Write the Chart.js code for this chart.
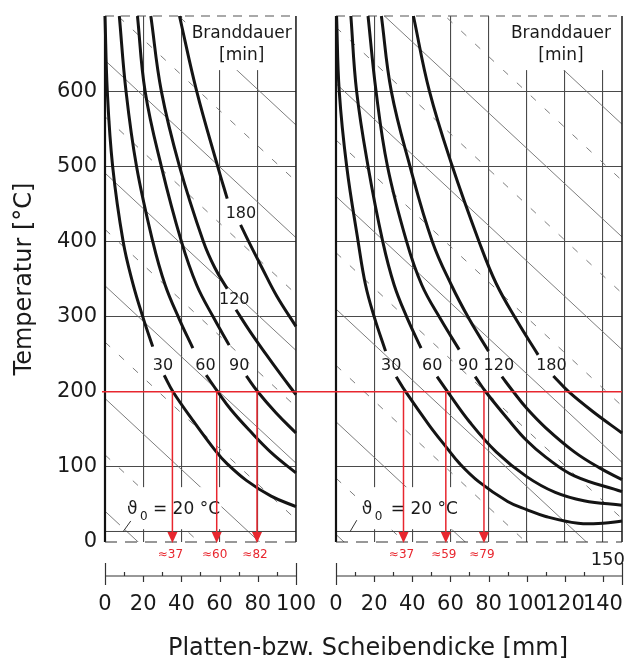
<!DOCTYPE html>
<html>
<head>
<meta charset="utf-8">
<script src="https://cdn.jsdelivr.net/npm/chart.js@4.4.1/dist/chart.umd.min.js"></script>
<style>
  body { margin: 0; background: #fff; width: 627px; height: 659px; position: relative; overflow: hidden; }
  #left { position: absolute; left: 0; top: 0; }
  #right { position: absolute; left: 316px; top: 0; }
  #xtitle { position: absolute; left: 0; width: 736px; top: 633px; text-align: center;
            font: 24px "DejaVu Sans"; color: #1a1a1a; }
</style>
</head>
<body>
<canvas id="left" width="316" height="659"></canvas>
<canvas id="right" width="311" height="659"></canvas>
<div id="xtitle">Platten-bzw. Scheibendicke [mm]</div>
<script>
// Branddauer [min]
const durations = ['30', '60', '90', '120', '180']
const yTicks = [0, 100, 200, 300, 400, 500, 600]
const xTicksPlatte = [0, 20, 40, 60, 80, 100]
const xTicksScheibe = [0, 20, 40, 60, 80, 100, 120, 140]

// Platte: [Dicke mm, Temperatur °C], null = Lücke für die Beschriftung
const platte30 = [[0,700],[1.2,600],[4,500],[9.5,400],[14.5,345],[20,298],[25,260],null,[31,222],[35.6,200],[46,162],[58,121],[64,104],[74,82],[87,61],[100,47]]
const platte60 = [[7.5,700],[11,600],[16.5,500],[25,400],[31.5,342],[39,296],[46,258],null,[53,222],[59,200],[66,176],[75.5,149],[87.5,118],[100,92]]
const platte90 = [[17,700],[21,600],[29.5,500],[40,400],[48,342],[57,298],[65,262],null,[74,221],[80,200],[89.5,172],[100,145]]
const platte120 = [[24,700],[29.5,600],[39,500],[51.5,400],[57.5,365],[64,337],null,[68.6,309],[76,280],[84,251],[92,223],[100,196]]
const platte180 = [[39,700],[48,600],[59,500],[64,457],null,[71,422],[75,401],[82,366],[90,327],[100,287]]

// Scheibe
const scheibe30 = [[0.3,700],[1.7,600],[5.6,500],[11.6,400],[15.5,342],[20,300],[26,254],null,[31.6,220],[36.5,200],[49,155],[57.6,127],[65,104],[75,80],[90,54],[100,43],[110,34],[127,25],[140,25],[150,28]]
const scheibe60 = [[7.8,700],[10.8,600],[16.8,500],[24.5,400],[30.5,342],[37,300],[44.6,258],null,[53,220],[58.5,200],[70,160],[84,120],[100,87],[115,66],[130,55],[150,49]]
const scheibe90 = [[16.8,700],[21,600],[27,500],[37,400],[45,342],[55,296],[64.6,256],null,[73,220],[78.5,200],[90,164],[100,135],[110,113],[125,88],[150,67]]
const scheibe120 = [[23.8,700],[29,600],[38.8,500],[50.5,400],[60.5,342],[70,296],[80,254],null,[87,220],[93,200],[100,178],[110,152],[125,120],[138,99],[150,83]]
const scheibe180 = [[40.6,700],[49,600],[61,500],[75,400],[84,344],[95,294],[106,249],null,[114,221],[122,200],[135,173],[150,145]]

// Ablesung bei 200 °C
const readT = 200
const platteRead = [35.3, 58.5, 79.6]
const platteReadText = ['≈37', '≈60', '≈82']
const scheibeRead = [35.4, 57.6, 77.6]
const scheibeReadText = ['≈37', '≈59', '≈79']

// ϑ0-Linie und Hilfslinien (Achsabschnitt bei 0 mm in °C)
const theta0Line = 14
const diagSlope = 2.36
const platteSolid = [791, 641, 491, 341, 191, 41]
const platteDashed = [866, 716, 566, 416, 266, 116]
const scheibeSolid = [910, 760, 610, 460, 310, 160, 10]
const scheibeDashed = [985, 835, 685, 535, 385, 235, 85]

const FONT = '"DejaVu Sans"'
const INK = '#1a1a1a'
const RED = '#e8262e'

function toPoints(pairs) {
  return pairs.map((p, i) => p ? { x: p[0], y: p[1] } : { x: pairs[i - 1][0], y: null })
}

const decor = {
  id: 'decor',
  beforeDatasetsDraw(chart, args, o) {
    const { ctx, chartArea: a, scales: { x, y } } = chart
    const X = v => x.getPixelForValue(v)
    const Y = v => y.getPixelForValue(v)
    ctx.save()
    ctx.beginPath()
    ctx.rect(a.left, a.top, a.right - a.left, a.bottom - a.top)
    ctx.clip()
    ctx.strokeStyle = '#6e6e6e'
    ctx.lineWidth = 0.9
    const diag = b => {
      ctx.beginPath()
      ctx.moveTo(X(0), Y(b))
      ctx.lineTo(X(o.xMax), Y(b - diagSlope * o.xMax))
      ctx.stroke()
    }
    ctx.setLineDash([])
    o.solid.forEach(diag)
    ctx.setLineDash([7, 12])
    o.dashed.forEach(diag)
    ctx.setLineDash([])
    // ϑ0 line
    ctx.strokeStyle = '#444'
    ctx.lineWidth = 1
    ctx.beginPath()
    ctx.moveTo(X(0), Y(theta0Line))
    ctx.lineTo(X(o.xMax), Y(theta0Line))
    ctx.stroke()
    ctx.restore()

    // white label backgrounds
    ctx.save()
    ctx.fillStyle = '#fff'
    o.boxes.forEach(b => {
      ctx.fillRect(X(b[0]), Y(b[3]), X(b[1]) - X(b[0]), Y(b[2]) - Y(b[3]))
    })
    // frame
    ctx.strokeStyle = '#111'
    ctx.lineWidth = 2.2
    ctx.beginPath(); ctx.moveTo(X(0), a.top); ctx.lineTo(X(0), a.bottom); ctx.stroke()
    ctx.lineWidth = 1.6
    ctx.strokeStyle = '#222'
    ctx.beginPath(); ctx.moveTo(X(o.xMax), a.top); ctx.lineTo(X(o.xMax), a.bottom); ctx.stroke()
    ctx.strokeStyle = '#555'
    ctx.lineWidth = 1.2
    ctx.setLineDash([9, 7])
    ctx.beginPath(); ctx.moveTo(X(0), a.top); ctx.lineTo(X(o.xMax), a.top); ctx.stroke()
    ctx.strokeStyle = '#333'
    ctx.setLineDash([12, 8])
    ctx.beginPath(); ctx.moveTo(X(0), a.bottom); ctx.lineTo(X(o.xMax), a.bottom); ctx.stroke()
    ctx.setLineDash([])
    // key
    ctx.fillStyle = INK
    ctx.font = '17px ' + FONT
    ctx.textAlign = 'center'
    ctx.textBaseline = 'middle'
    ctx.fillText('Branddauer', X(o.keyAt), Y(676))
    ctx.fillText('[min]', X(o.keyAt), Y(647))
    ctx.restore()
  },
  afterDatasetsDraw(chart, args, o) {
    const { ctx, chartArea: a, scales: { x, y } } = chart
    const X = v => x.getPixelForValue(v)
    const Y = v => y.getPixelForValue(v)
    ctx.save()
    // curve labels
    ctx.fillStyle = INK
    ctx.font = '16px ' + FONT
    ctx.textAlign = 'center'
    ctx.textBaseline = 'middle'
    o.labelAt.forEach((p, i) => ctx.fillText(durations[i], X(p[0]), Y(p[1])))
    // ϑ0 label
    const tx = X(o.thetaAt), ty = Y(0) - 32
    ctx.textAlign = 'left'
    ctx.font = '17px ' + FONT
    ctx.fillText('ϑ', tx, ty)
    ctx.font = '12px ' + FONT
    ctx.fillText('0', tx + 13, ty + 7)
    ctx.font = '17px ' + FONT
    ctx.fillText('= 20 °C', tx + o.thetaGap, ty)
    ctx.strokeStyle = '#333'
    ctx.lineWidth = 1
    ctx.beginPath()
    ctx.moveTo(X(o.leader[0][0]), Y(o.leader[0][1]))
    ctx.lineTo(X(o.leader[1][0]), Y(o.leader[1][1]))
    ctx.stroke()

    // red reading lines
    ctx.strokeStyle = RED
    ctx.fillStyle = RED
    ctx.lineWidth = 1.5
    ctx.beginPath()
    ctx.moveTo(o.redFrom(X), Y(readT))
    ctx.lineTo(o.redTo(X, chart), Y(readT))
    ctx.stroke()
    ctx.font = '12px ' + FONT
    ctx.textAlign = 'center'
    o.read.forEach((v, i) => {
      const px = X(v)
      ctx.beginPath()
      ctx.moveTo(px, Y(readT))
      ctx.lineTo(px, Y(0) - 9)
      ctx.stroke()
      ctx.beginPath()
      ctx.moveTo(px - 5, Y(0) - 10)
      ctx.lineTo(px + 5, Y(0) - 10)
      ctx.lineTo(px, Y(0) + 1)
      ctx.closePath()
      ctx.fill()
      ctx.fillText(o.readText[i], px - 2, Y(0) + 13)
    })

    // lower scale bar
    const ya = Y(0) + 34
    ctx.strokeStyle = '#333'
    ctx.lineWidth = 1.2
    ctx.beginPath(); ctx.moveTo(X(0), ya); ctx.lineTo(X(o.xMax), ya); ctx.stroke()
    for (let v = 0; v <= o.xMax; v += 10) {
      const px = Math.round(X(v)) + 0.5
      let t0 = ya - 4, t1 = ya
      if (v === 0 || v === o.xMax) { t0 = ya - 13; t1 = ya + 9 }
      else if (v % 20 === 0) { t0 = ya; t1 = ya + 6 }
      ctx.beginPath(); ctx.moveTo(px, t0); ctx.lineTo(px, t1); ctx.stroke()
    }
    if (o.endLabel) {
      ctx.fillStyle = INK
      ctx.font = '18px ' + FONT
      ctx.textAlign = 'right'
      ctx.fillText(String(o.xMax), X(o.xMax) + 3, Y(0) + 18)
    }
    ctx.restore()
  }
}

function makePanel(id, p) {
  const hidden = 'rgba(0,0,0,0)'
  new Chart(document.getElementById(id), {
    type: 'line',
    data: {
      datasets: p.curves.map((c, i) => ({
        label: durations[i],
        data: toPoints(c),
        borderColor: '#141414',
        borderWidth: 3,
        pointRadius: 0,
        fill: false,
        spanGaps: false,
        tension: 0.4,
        clip: 3
      }))
    },
    options: {
      responsive: false,
      animation: false,
      layout: { autoPadding: false, padding: { top: 16, bottom: 37, left: 0, right: p.padRight } },
      plugins: { legend: { display: false }, tooltip: { enabled: false }, decor: p.decor },
      scales: {
        x: {
          type: 'linear', min: 0, max: p.xMax,
          afterBuildTicks: s => { s.ticks = p.xTicks.map(v => ({ value: v })) },
          afterFit: s => { s.height = 80 },
          border: { display: false },
          grid: { drawTicks: true, tickLength: 50, tickColor: hidden, lineWidth: 1.1,
                  color: c => (c.tick && (c.tick.value === 0 || c.tick.value === p.xMax)) ? hidden : '#4a4a4a' },
          ticks: { autoSkip: false, maxRotation: 0, minRotation: 0, padding: 0, color: INK,
                   font: { family: 'DejaVu Sans', size: 21 } }
        },
        y: {
          type: 'linear', min: 0, max: 700,
          afterBuildTicks: s => { s.ticks = yTicks.map(v => ({ value: v })) },
          afterFit: s => { s.width = p.yWidth },
          border: { display: false },
          grid: { drawTicks: true, tickLength: 8, tickColor: hidden, lineWidth: 1.1,
                  color: c => (c.tick && c.tick.value === 0) ? hidden : '#4a4a4a' },
          ticks: { display: p.showY, padding: 0, color: INK, font: { family: 'DejaVu Sans', size: 21 } },
          title: { display: p.showY, text: 'Temperatur [°C]', color: INK,
                   font: { family: 'DejaVu Sans', size: 24 }, padding: { top: 10, bottom: 0 } }
        }
      }
    },
    plugins: [decor]
  })
}

makePanel('left', {
  curves: [platte30, platte60, platte90, platte120, platte180],
  xMax: 100, xTicks: xTicksPlatte, yWidth: 105, padRight: 19, showY: true,
  decor: {
    xMax: 100, solid: platteSolid, dashed: platteDashed,
    boxes: [[42, 99.6, 628, 700], [7.8, 61, 17, 73]],
    keyAt: 71.6,
    labelAt: [[30.4, 235], [52.6, 235], [70.3, 235], [67.7, 322], [71.2, 437]],
    thetaAt: 11.5, thetaGap: 26, leader: [[13.5, 28], [9.4, 13.5]],
    read: platteRead, readText: platteReadText,
    redFrom: X => X(0) - 3, redTo: (X, chart) => chart.width,
    endLabel: false
  }
})

makePanel('right', {
  curves: [scheibe30, scheibe60, scheibe90, scheibe120, scheibe180],
  xMax: 150, xTicks: xTicksScheibe, yWidth: 20, padRight: 5, showY: false,
  decor: {
    xMax: 150, solid: scheibeSolid, dashed: scheibeDashed,
    boxes: [[83, 149.2, 628, 700], [10.4, 62.5, 17, 73]],
    keyAt: 118,
    labelAt: [[29, 235], [50.5, 235], [69.3, 235], [85.4, 235], [113, 235]],
    thetaAt: 13.5, thetaGap: 29, leader: [[10.9, 29], [7.3, 13.5]],
    read: scheibeRead, readText: scheibeReadText,
    redFrom: () => 0, redTo: X => X(150),
    endLabel: true
  }
})
</script>
</body>
</html>
